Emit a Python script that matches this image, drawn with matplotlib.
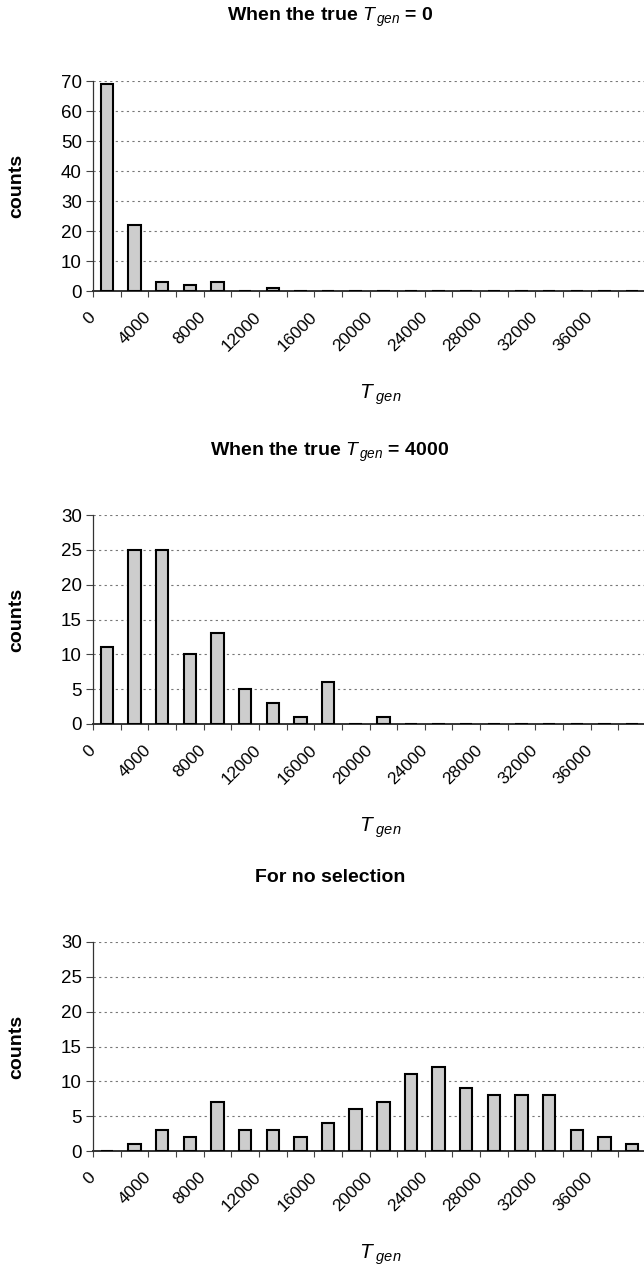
import matplotlib
matplotlib.use('Agg')
import matplotlib.pyplot as plt
from matplotlib.transforms import ScaledTranslation

plt.rcParams['font.family'] = ['Liberation Sans', 'DejaVu Sans']
plt.rcParams['mathtext.fontset'] = 'custom'
plt.rcParams['mathtext.rm'] = 'Liberation Sans'
plt.rcParams['mathtext.it'] = 'Liberation Sans:italic'
plt.rcParams['mathtext.bf'] = 'Liberation Sans:bold'

# bin starts of T_gen (bins are 2000 wide)
bin_starts = [0, 2000, 4000, 6000, 8000, 10000, 12000, 14000, 16000, 18000,
              20000, 22000, 24000, 26000, 28000, 30000, 32000, 34000, 36000, 38000]
tick_labels = ['0', '4000', '8000', '12000', '16000', '20000',
               '24000', '28000', '32000', '36000']

counts_true0 = [69, 22, 3, 2, 3, 0, 1, 0, 0, 0, 0, 0, 0, 0, 0, 0, 0, 0, 0, 0]
counts_true4000 = [11, 25, 25, 10, 13, 5, 3, 1, 6, 0, 1, 0, 0, 0, 0, 0, 0, 0, 0, 0]
counts_nosel = [0, 1, 3, 2, 7, 3, 3, 2, 4, 6, 7, 11, 12, 9, 8, 8, 8, 3, 2, 1]

titles = [r'When the true $T_{\,gen}$ = 0',
          r'When the true $T_{\,gen}$ = 4000',
          'For no selection']
ymaxes = [70, 30, 30]
ysteps = [10, 5, 5]

fig = plt.figure(figsize=(6.44, 12.67), dpi=100)
W, H = 644.0, 1267.0

# axes boxes in pixels: (top, bottom)
boxes = [(81, 291), (515, 724), (942, 1151)]
title_y = [17, 452, 877]
left_px, right_px = 93, 646

series = [counts_true0, counts_true4000, counts_nosel]

for i, data in enumerate(series):
    top, bot = boxes[i]
    ax = fig.add_axes([left_px / W, 1 - bot / H, (right_px - left_px) / W, (bot - top) / H])
    centers = [b + 1000 for b in bin_starts]
    ax.bar(centers, data, width=900, color='#cdcdcd', edgecolor='black', linewidth=1.5, zorder=3)

    ax.set_xlim(0, 40000)
    ax.set_ylim(0, ymaxes[i])
    yt = list(range(0, ymaxes[i] + 1, ysteps[i]))
    ax.set_yticks(yt)
    for y in yt[1:]:
        ax.axhline(y, color='#777777', linewidth=0.8, linestyle=(0, (2, 3)), zorder=1)

    ax.set_xticks([int(t) for t in tick_labels])
    ax.set_xticks(bin_starts + [40000], minor=True)
    ax.set_xticklabels(tick_labels, rotation=45, ha='right', va='center',
                       rotation_mode='anchor', fontsize=12.5)
    for lab in ax.get_xticklabels():
        lab.set_transform(lab.get_transform() + ScaledTranslation(4 / 72, 0, fig.dpi_scale_trans))
    ax.tick_params(axis='x', which='both', direction='out', length=4, width=0.8,
                   color='#444444', pad=13)
    ax.tick_params(axis='y', direction='out', length=5, width=0.8, color='#444444',
                   labelsize=13.5, pad=3)

    for s in ['top', 'right']:
        ax.spines[s].set_visible(False)
    ax.spines['left'].set_color('#333333')
    ax.spines['left'].set_linewidth(0.9)
    ax.spines['bottom'].set_color('#333333')
    ax.spines['bottom'].set_linewidth(1.4)

    ax.set_ylabel('counts', fontsize=14, fontweight='bold')
    ax.yaxis.set_label_coords((25 - left_px) / (right_px - left_px), 0.5)
    ax.set_xlabel(r'$T_{\,\,gen}$', fontsize=15, va='center')
    ax.xaxis.set_label_coords((380 - left_px) / (right_px - left_px), -104 / (bot - top))

    fig.text(330 / W, 1 - title_y[i] / H, titles[i], ha='center', va='center',
             fontsize=14, fontweight='bold')

fig.savefig('out.png', dpi=100)
